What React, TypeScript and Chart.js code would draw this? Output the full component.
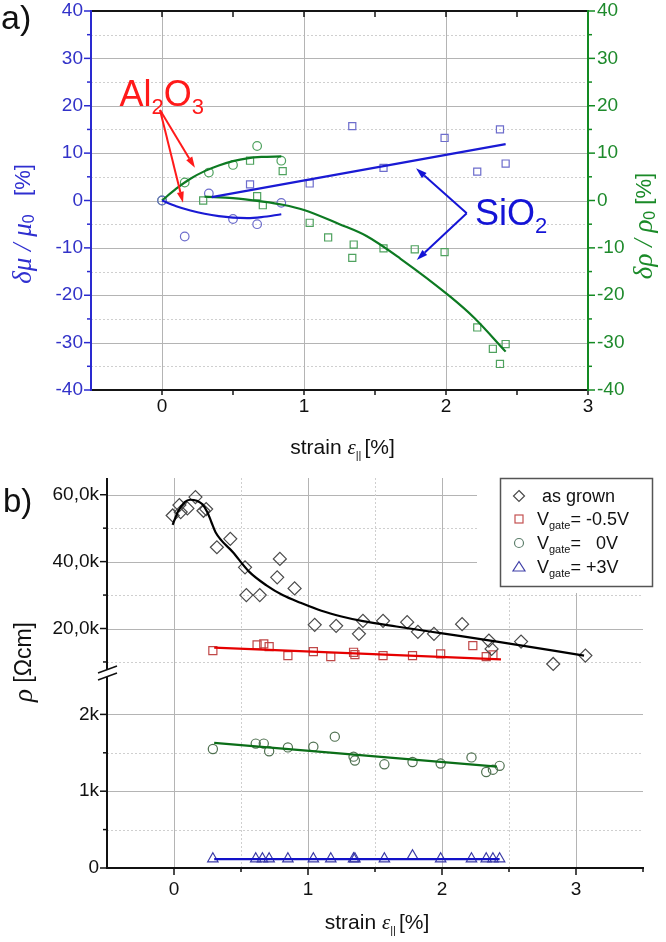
import React, { useEffect, useRef } from 'react';
import { Chart, registerables } from 'chart.js';

Chart.register(...registerables);

const SANS = '"Liberation Sans", Arial, sans-serif';
const SERIF = '"Liberation Serif", "Times New Roman", serif';

// ---------------- Panel a data (strain %, change %) ----------------
const alMuX = [0, 0.16, 0.33, 0.5, 0.67, 0.84];
const alMuY = [0, -7.6, 1.5, -3.9, -5.0, -0.5];
const alRhoX = [0, 0.16, 0.33, 0.5, 0.67, 0.84];
const alRhoY = [0, 3.8, 5.9, 7.5, 11.5, 8.4];
const siMuX = [0.62, 1.04, 1.34, 1.56, 1.99, 2.22, 2.38, 2.42];
const siMuY = [3.4, 3.6, 15.7, 6.9, 13.2, 6.1, 15.0, 7.8];
const siRhoX = [0.29, 0.62, 0.67, 0.71, 0.85, 1.04, 1.17, 1.34, 1.35, 1.56, 1.78, 1.99, 2.22, 2.33, 2.38, 2.42];
const siRhoY = [0, 8.4, 0.9, -1.0, 6.2, -4.7, -7.8, -12.1, -9.3, -10.1, -10.3, -10.9, -26.8, -31.3, -34.5, -30.3];

const alFitX = [0, 0.1, 0.2, 0.3, 0.4, 0.5, 0.6, 0.7, 0.84];
const alMuFitY = [0, -1.2, -2.1, -2.8, -3.3, -3.6, -3.7, -3.5, -2.9];
const alRhoFitY = [0, 2.5, 4.6, 6.2, 7.4, 8.3, 8.9, 9.2, 9.3];
const siMuFitX = [0.35, 2.42];
const siMuFitY = [0.7, 11.9];
const siRhoFitX = [0.3, 0.5, 0.7, 0.85, 1.0, 1.25, 1.44, 1.68, 2.03, 2.2, 2.42];
const siRhoFitY = [0.8, 0.5, -0.2, -0.9, -2.0, -5.0, -7.5, -12.3, -20.3, -24.8, -31.9];

const aXTicks = [0, 1, 2, 3];
const aXMinor = [0.5, 1.5, 2.5];
const aYTicks = [-40, -30, -20, -10, 0, 10, 20, 30, 40];
const aYMinor = [-35, -25, -15, -5, 5, 15, 25, 35];
const aYGrid = [-30, -20, -10, 0, 10, 20, 30];
const aXGrid = [0, 1, 2];

// annotation anchors (data coordinates of panel a)
const alLabelAt = { x: -0.3, y: 19.9 };
const alArrowFrom = { x: -0.014, y: 19.1 };
const alArrowTips = [{ x: 0.232, y: 6.9 }, { x: 0.148, y: -0.5 }];
const siLabelAt = { x: 2.204, y: -5.2 };
const siArrowFrom = { x: 2.146, y: -2.7 };
const siArrowTips = [{ x: 1.789, y: 6.8 }, { x: 1.794, y: -12.55 }];

// ---------------- Panel b data (strain %, rho in k Ohm cm) ----------------
const grownX = [-0.01, 0.04, 0.05, 0.10, 0.16, 0.22, 0.24, 0.32, 0.42, 0.53, 0.54, 0.64, 0.77, 0.79, 0.90, 1.05, 1.21, 1.38, 1.41, 1.56, 1.74, 1.82, 1.94, 2.15, 2.35, 2.37, 2.59, 2.83, 3.07];
const grownY = [53.8, 56.9, 54.8, 55.9, 59.3, 55.2, 55.7, 44.3, 46.8, 38.3, 30.0, 30.0, 35.3, 40.8, 32.0, 21.1, 20.8, 18.4, 22.3, 22.3, 21.9, 19.0, 18.4, 21.3, 16.4, 13.9, 16.1, 9.4, 11.9];
const grownFitX = [-0.01, 0.03, 0.08, 0.12, 0.17, 0.21, 0.25, 0.28, 0.31, 0.44, 0.56, 0.69, 0.81, 0.95, 1.1, 1.25, 1.41, 1.66, 1.99, 2.41, 3.06];
const grownFitY = [51.0, 55.0, 57.8, 58.5, 58.2, 57.2, 54.7, 51.7, 48.8, 42.8, 37.0, 32.9, 30.0, 27.6, 25.3, 23.6, 22.2, 20.6, 18.6, 16.1, 11.9];

const negX = [0.29, 0.62, 0.67, 0.71, 0.85, 1.04, 1.17, 1.34, 1.35, 1.56, 1.78, 1.99, 2.23, 2.33, 2.38];
const negY = [13.4, 15.1, 15.4, 14.6, 11.9, 13.1, 11.6, 12.9, 12.2, 11.9, 11.9, 12.4, 14.9, 11.6, 12.1];
const negFitX = [0.3, 2.44];
const negFitY = [14.3, 10.8];

const zeroX = [0.29, 0.61, 0.67, 0.71, 0.85, 1.04, 1.2, 1.34, 1.35, 1.57, 1.78, 1.99, 2.22, 2.33, 2.38, 2.43];
const zeroY = [1.55, 1.62, 1.62, 1.52, 1.57, 1.58, 1.71, 1.45, 1.4, 1.35, 1.38, 1.36, 1.44, 1.25, 1.28, 1.33];
const zeroFitX = [0.3, 2.41];
const zeroFitY = [1.63, 1.32];

const posX = [0.29, 0.61, 0.66, 0.71, 0.85, 1.04, 1.17, 1.34, 1.35, 1.57, 1.78, 1.99, 2.22, 2.33, 2.38, 2.43];
const posY = [0.12, 0.12, 0.12, 0.12, 0.12, 0.12, 0.12, 0.12, 0.12, 0.12, 0.16, 0.12, 0.12, 0.12, 0.12, 0.12];
const posFitX = [0.3, 2.43];
const posFitY = [0.115, 0.115];

const bXTicks = [0, 1, 2, 3];
const bXMinor = [0.5, 1.5, 2.5, 3.5];
const bUpTicks = [20, 40, 60];
const bUpLabels = ['20,0k', '40,0k', '60,0k'];
const bUpMinor = [10, 30, 50];
const bLowTicks = [0, 1, 2];
const bLowLabels = ['0', '1k', '2k'];
const bLowMinor = [0.5, 1.5];

const legendLabels = [' as grown', '= -0.5V', '=   0V', '= +3V'];

// ---------------- colours ----------------
const GRID = '#b4b4b4';
const DOT = '#cfcfcf';
const A_BLUE_LINE = '#1a1ad4';
const A_BLUE_MARK = '#6d6dcc';
const A_GREEN_LINE = '#0d7a22';
const A_GREEN_MARK = '#4fa25f';
const A_LEFT = '#2a2ad0';
const A_RIGHT = '#138a22';

type Seg = { t: string; f: string; dy?: number };

function drawSegs(ctx: CanvasRenderingContext2D, segs: Seg[], x: number, y: number, align: string) {
  let w = 0;
  segs.forEach((s) => { ctx.font = s.f; w += ctx.measureText(s.t).width; });
  let cx = align === 'left' ? x : align === 'center' ? x - w / 2 : x - w;
  ctx.textAlign = 'left';
  segs.forEach((s) => {
    ctx.font = s.f;
    ctx.fillText(s.t, cx, y + (s.dy || 0));
    cx += ctx.measureText(s.t).width;
  });
}

function rotSegs(ctx: CanvasRenderingContext2D, segs: Seg[], cx: number, cy: number, color: string) {
  ctx.save();
  ctx.translate(cx, cy);
  ctx.rotate(-Math.PI / 2);
  ctx.fillStyle = color;
  ctx.textBaseline = 'middle';
  drawSegs(ctx, segs, 0, 0, 'center');
  ctx.restore();
}

function seg(ctx: CanvasRenderingContext2D, x1: number, y1: number, x2: number, y2: number) {
  ctx.beginPath();
  ctx.moveTo(x1, y1);
  ctx.lineTo(x2, y2);
  ctx.stroke();
}

function arrow(ctx: CanvasRenderingContext2D, x1: number, y1: number, x2: number, y2: number, color: string) {
  const ang = Math.atan2(y2 - y1, x2 - x1);
  const head = 11, w = 3.5;
  const bx = x2 - head * Math.cos(ang), by = y2 - head * Math.sin(ang);
  ctx.strokeStyle = color;
  ctx.fillStyle = color;
  ctx.lineWidth = 2;
  seg(ctx, x1, y1, bx, by);
  ctx.beginPath();
  ctx.moveTo(x2, y2);
  ctx.lineTo(bx + w * Math.sin(ang), by - w * Math.cos(ang));
  ctx.lineTo(bx - w * Math.sin(ang), by + w * Math.cos(ang));
  ctx.closePath();
  ctx.fill();
}

function hGrid(ctx: CanvasRenderingContext2D, a: any, scale: any, vals: number[], dotted: boolean) {
  ctx.save();
  ctx.lineWidth = 1;
  ctx.strokeStyle = dotted ? DOT : GRID;
  ctx.setLineDash(dotted ? [2, 2] : []);
  vals.forEach((v) => {
    const p = Math.round(scale.getPixelForValue(v)) + 0.5;
    seg(ctx, a.left, p, a.right, p);
  });
  ctx.restore();
}

function vGrid(ctx: CanvasRenderingContext2D, scale: any, vals: number[], y1: number, y2: number, dotted: boolean) {
  ctx.save();
  ctx.lineWidth = 1;
  ctx.strokeStyle = dotted ? DOT : GRID;
  ctx.setLineDash(dotted ? [2, 2] : []);
  vals.forEach((v) => {
    const p = Math.round(scale.getPixelForValue(v)) + 0.5;
    seg(ctx, p, y1, p, y2);
  });
  ctx.restore();
}

const pts = (xs: number[], ys: number[]) => xs.map((x, i) => ({ x, y: ys[i] }));

function markers(label: string, xs: number[], ys: number[], style: string, color: string, r: number, yAxisID = 'y') {
  return {
    label, data: pts(xs, ys), showLine: false, pointStyle: style, pointRadius: r,
    pointBorderColor: color, pointBackgroundColor: 'rgba(0,0,0,0)', pointBorderWidth: 1.2,
    yAxisID, clip: false, order: 2,
  };
}

function fitLine(label: string, xs: number[], ys: number[], color: string, yAxisID = 'y') {
  return {
    label, data: pts(xs, ys), showLine: true, borderColor: color, borderWidth: 2.2,
    pointRadius: 0, cubicInterpolationMode: 'monotone', yAxisID, clip: false, order: 1,
  };
}

function baseOptions(padding: any, scales: any) {
  return {
    animation: false, responsive: false, maintainAspectRatio: false, events: [],
    layout: { padding },
    plugins: { legend: { display: false }, tooltip: { enabled: false }, title: { display: false } },
    scales,
  };
}

const TICK_FONT = `19px ${SANS}`;
const LEG_FONT = `18px ${SANS}`;
const TITLE_FONT = `21px ${SANS}`;

// ---------------- Panel a plugin ----------------
const panelAPlugin = {
  id: 'panelA',
  beforeDatasetsDraw(chart: any) {
    const { ctx, chartArea: a } = chart;
    const x = chart.scales.x, y = chart.scales.y;
    hGrid(ctx, a, y, aYMinor, true);
    hGrid(ctx, a, y, aYGrid, false);
    vGrid(ctx, x, aXGrid, a.top, a.bottom, false);
  },
  afterDatasetsDraw(chart: any) {
    const { ctx, chartArea: a } = chart;
    const x = chart.scales.x, y = chart.scales.y, y2 = chart.scales.y2;
    ctx.save();
    ctx.lineWidth = 2;
    // top & bottom axes
    ctx.strokeStyle = '#151515';
    seg(ctx, a.left, a.top, a.right, a.top);
    seg(ctx, a.left, a.bottom, a.right, a.bottom);
    ctx.lineWidth = 1.5;
    [...aXTicks, ...aXMinor].forEach((v) => {
      const p = x.getPixelForValue(v);
      seg(ctx, p, a.top, p, a.top + 6);
      seg(ctx, p, a.bottom, p, a.bottom + 5);
    });
    // left axis
    ctx.lineWidth = 2;
    ctx.strokeStyle = A_LEFT;
    seg(ctx, a.left, a.top - 1, a.left, a.bottom + 1);
    ctx.lineWidth = 1.5;
    aYTicks.forEach((v) => { const p = y.getPixelForValue(v); seg(ctx, a.left - 7, p, a.left, p); });
    aYMinor.forEach((v) => { const p = y.getPixelForValue(v); seg(ctx, a.left - 4, p, a.left, p); });
    // right axis
    ctx.lineWidth = 2;
    ctx.strokeStyle = A_RIGHT;
    seg(ctx, a.right, a.top - 1, a.right, a.bottom + 1);
    ctx.lineWidth = 1.5;
    aYTicks.forEach((v) => { const p = y2.getPixelForValue(v); seg(ctx, a.right, p, a.right + 7, p); });
    aYMinor.forEach((v) => { const p = y2.getPixelForValue(v); seg(ctx, a.right, p, a.right + 4, p); });

    // tick labels
    ctx.font = TICK_FONT;
    ctx.textBaseline = 'middle';
    ctx.textAlign = 'right';
    ctx.fillStyle = '#3232c8';
    aYTicks.forEach((v) => ctx.fillText(String(v), a.left - 8, y.getPixelForValue(v)));
    ctx.textAlign = 'left';
    ctx.fillStyle = '#1e8a2c';
    aYTicks.forEach((v) => ctx.fillText(String(v), a.right + 9, y2.getPixelForValue(v)));
    ctx.textAlign = 'center';
    ctx.fillStyle = '#111';
    aXTicks.forEach((v) => ctx.fillText(String(v), x.getPixelForValue(v), a.bottom + 17));

    // x title
    ctx.textBaseline = 'alphabetic';
    ctx.fillStyle = '#111';
    drawSegs(ctx, [
      { t: 'strain ', f: TITLE_FONT },
      { t: 'ε', f: `italic 21px ${SERIF}` },
      { t: '|| ', f: `11px ${SANS}`, dy: 5 },
      { t: '[%]', f: TITLE_FONT },
    ], (a.left + a.right) / 2 + 3, a.bottom + 64, 'center');

    // y titles
    rotSegs(ctx, [
      { t: 'δμ / μ', f: `italic 27px ${SERIF}` },
      { t: '0', f: `16px ${SANS}`, dy: 6 },
      { t: '   [%]', f: `22px ${SANS}` },
    ], 24, 224, '#2f2fd0');
    rotSegs(ctx, [
      { t: 'δρ / ρ', f: `italic 27px ${SERIF}` },
      { t: '0', f: `16px ${SANS}`, dy: 6 },
      { t: ' [%]', f: `22px ${SANS}` },
    ], 645, 226, '#1a8a28');

    // "a)"
    ctx.fillStyle = '#111';
    ctx.font = `34px ${SANS}`;
    ctx.textAlign = 'left';
    ctx.fillText('a)', 1, 29);

    // annotations
    const px = (p: any) => ({ x: x.getPixelForValue(p.x), y: y.getPixelForValue(p.y) });
    const af = px(alArrowFrom);
    alArrowTips.forEach((t) => { const tp = px(t); arrow(ctx, af.x, af.y, tp.x, tp.y, '#ff1a1a'); });
    const al = px(alLabelAt);
    ctx.fillStyle = '#ff1a1a';
    ctx.textBaseline = 'alphabetic';
    drawSegs(ctx, [
      { t: 'Al', f: `36px ${SANS}` },
      { t: '2', f: `22px ${SANS}`, dy: 8 },
      { t: 'O', f: `36px ${SANS}` },
      { t: '3', f: `22px ${SANS}`, dy: 8 },
    ], al.x, al.y, 'left');

    const sf = px(siArrowFrom);
    siArrowTips.forEach((t) => { const tp = px(t); arrow(ctx, sf.x, sf.y, tp.x, tp.y, '#1414d6'); });
    const si = px(siLabelAt);
    ctx.fillStyle = '#1414d6';
    drawSegs(ctx, [
      { t: 'SiO', f: `36px ${SANS}` },
      { t: '2', f: `22px ${SANS}`, dy: 8 },
    ], si.x, si.y, 'left');
    ctx.restore();
  },
};

// ---------------- Panel b plugins ----------------
const bUpperPlugin = {
  id: 'bUpper',
  beforeDatasetsDraw(chart: any) {
    const { ctx, chartArea: a } = chart;
    const x = chart.scales.x, y = chart.scales.y;
    hGrid(ctx, a, y, bUpMinor, true);
    hGrid(ctx, a, y, bUpTicks, false);
    vGrid(ctx, x, bXMinor.filter((v) => v < 3.5), a.top, a.bottom, true);
    vGrid(ctx, x, bXTicks, a.top, a.bottom, false);
  },
  afterDatasetsDraw(chart: any) {
    const { ctx, chartArea: a } = chart;
    const y = chart.scales.y;
    ctx.save();
    // white area behind legend
    ctx.fillStyle = '#fff';
    ctx.fillRect(477, 0, 189, 123);
    // legend box
    ctx.strokeStyle = '#555';
    ctx.lineWidth = 1.5;
    ctx.strokeRect(500.5, 8.5, 152, 108);
    const sx = 519;
    const rows = [26, 49, 73, 97];
    ctx.lineWidth = 1.2;
    // diamond
    ctx.strokeStyle = '#4a4a4a';
    ctx.beginPath();
    ctx.moveTo(sx, rows[0] - 5.5); ctx.lineTo(sx + 5.5, rows[0]); ctx.lineTo(sx, rows[0] + 5.5); ctx.lineTo(sx - 5.5, rows[0]);
    ctx.closePath(); ctx.stroke();
    // square
    ctx.strokeStyle = '#c45050';
    ctx.strokeRect(sx - 4, rows[1] - 4, 8, 8);
    // circle
    ctx.strokeStyle = '#5d7f6c';
    ctx.beginPath(); ctx.arc(sx, rows[2], 4.5, 0, Math.PI * 2); ctx.stroke();
    // triangle
    ctx.strokeStyle = '#3f3fa8';
    ctx.beginPath();
    ctx.moveTo(sx, rows[3] - 5.5); ctx.lineTo(sx + 6, rows[3] + 4); ctx.lineTo(sx - 6, rows[3] + 4);
    ctx.closePath(); ctx.stroke();
    ctx.fillStyle = '#111';
    ctx.textBaseline = 'alphabetic';
    drawSegs(ctx, [{ t: legendLabels[0], f: LEG_FONT }], 537, rows[0] + 6, 'left');
    for (let i = 1; i < 4; i++) {
      drawSegs(ctx, [
        { t: 'V', f: LEG_FONT },
        { t: 'gate', f: `11px ${SANS}`, dy: 4 },
        { t: legendLabels[i], f: LEG_FONT },
      ], 537, rows[i] + 6, 'left');
    }

    // left axis
    ctx.strokeStyle = '#111';
    ctx.lineWidth = 2;
    seg(ctx, a.left, a.top, a.left, a.bottom);
    ctx.lineWidth = 1.5;
    bUpTicks.forEach((v) => { const p = y.getPixelForValue(v); seg(ctx, a.left - 7, p, a.left, p); });
    bUpMinor.forEach((v) => { const p = y.getPixelForValue(v); seg(ctx, a.left - 4, p, a.left, p); });
    ctx.font = TICK_FONT;
    ctx.textAlign = 'right';
    ctx.textBaseline = 'middle';
    ctx.fillStyle = '#111';
    bUpTicks.forEach((v, i) => ctx.fillText(bUpLabels[i], a.left - 8, y.getPixelForValue(v)));

    ctx.font = `33px ${SANS}`;
    ctx.textAlign = 'left';
    ctx.textBaseline = 'alphabetic';
    ctx.fillText('b)', 3, 42);
    ctx.restore();
  },
};

const bLowerPlugin = {
  id: 'bLower',
  beforeDatasetsDraw(chart: any) {
    const { ctx, chartArea: a } = chart;
    const x = chart.scales.x, y = chart.scales.y;
    hGrid(ctx, a, y, bLowMinor, true);
    hGrid(ctx, a, y, [1, 2], false);
    vGrid(ctx, x, bXMinor.filter((v) => v < 3.5), a.top - 2, a.bottom, true);
    vGrid(ctx, x, bXTicks, a.top - 2, a.bottom, false);
  },
  afterDatasetsDraw(chart: any) {
    const { ctx, chartArea: a } = chart;
    const x = chart.scales.x, y = chart.scales.y;
    ctx.save();
    ctx.strokeStyle = '#111';
    ctx.lineWidth = 2;
    seg(ctx, a.left, a.top - 3, a.left, a.bottom + 1);
    seg(ctx, a.left - 1, a.bottom, a.right + 1, a.bottom);
    ctx.lineWidth = 1.5;
    bLowTicks.forEach((v) => { const p = y.getPixelForValue(v); seg(ctx, a.left - 7, p, a.left, p); });
    bLowMinor.forEach((v) => { const p = y.getPixelForValue(v); seg(ctx, a.left - 4, p, a.left, p); });
    bXTicks.forEach((v) => { const p = x.getPixelForValue(v); seg(ctx, p, a.bottom, p, a.bottom + 7); });
    bXMinor.forEach((v) => { const p = x.getPixelForValue(v); seg(ctx, p, a.bottom, p, a.bottom + 4); });

    // axis break marks
    const bx = a.left, by = a.top - 4;
    ctx.fillStyle = '#fff';
    ctx.beginPath();
    ctx.moveTo(bx - 9, by + 1); ctx.lineTo(bx + 10, by - 6); ctx.lineTo(bx + 10, by + 1); ctx.lineTo(bx - 9, by + 8);
    ctx.closePath(); ctx.fill();
    ctx.lineWidth = 1.5;
    seg(ctx, bx - 9, by + 1, bx + 10, by - 6);
    seg(ctx, bx - 9, by + 8, bx + 10, by + 1);

    ctx.font = TICK_FONT;
    ctx.fillStyle = '#111';
    ctx.textAlign = 'right';
    ctx.textBaseline = 'middle';
    bLowTicks.forEach((v, i) => ctx.fillText(bLowLabels[i], a.left - 8, y.getPixelForValue(v)));
    ctx.textAlign = 'center';
    bXTicks.forEach((v) => ctx.fillText(String(v), x.getPixelForValue(v), a.bottom + 22));

    ctx.textBaseline = 'alphabetic';
    drawSegs(ctx, [
      { t: 'strain ', f: TITLE_FONT },
      { t: 'ε', f: `italic 21px ${SERIF}` },
      { t: '|| ', f: `11px ${SANS}`, dy: 5 },
      { t: '[%]', f: TITLE_FONT },
    ], (a.left + a.right) / 2 + 2, a.bottom + 61, 'center');

    rotSegs(ctx, [
      { t: 'ρ', f: `italic 27px ${SERIF}` },
      { t: ' [Ωcm]', f: `23px ${SANS}` },
    ], 25, 192, '#111');
    ctx.restore();
  },
};

export default function App() {
  const aRef = useRef<HTMLCanvasElement>(null);
  const b1Ref = useRef<HTMLCanvasElement>(null);
  const b2Ref = useRef<HTMLCanvasElement>(null);

  useEffect(() => {
    const charts: Chart[] = [];
    const xA = { type: 'linear', min: -0.5, max: 3, display: false };
    charts.push(new Chart(aRef.current as HTMLCanvasElement, {
      type: 'scatter',
      data: {
        datasets: [
          fitLine('Al2O3 mu fit', alFitX, alMuFitY, A_BLUE_LINE, 'y'),
          fitLine('Al2O3 rho fit', alFitX, alRhoFitY, A_GREEN_LINE, 'y2'),
          fitLine('SiO2 mu fit', siMuFitX, siMuFitY, A_BLUE_LINE, 'y'),
          fitLine('SiO2 rho fit', siRhoFitX, siRhoFitY, A_GREEN_LINE, 'y2'),
          markers('Al2O3 mu', alMuX, alMuY, 'circle', A_BLUE_MARK, 4.3, 'y'),
          markers('Al2O3 rho', alRhoX, alRhoY, 'circle', A_GREEN_MARK, 4.3, 'y2'),
          markers('SiO2 mu', siMuX, siMuY, 'rect', A_BLUE_MARK, 5, 'y'),
          markers('SiO2 rho', siRhoX, siRhoY, 'rect', A_GREEN_MARK, 5, 'y2'),
        ] as any,
      },
      options: baseOptions({ left: 91, right: 78, top: 11, bottom: 80 }, {
        x: xA,
        y: { type: 'linear', min: -40, max: 40, display: false },
        y2: { type: 'linear', min: -40, max: 40, display: false, position: 'right' },
      }) as any,
      plugins: [panelAPlugin],
    }));

    const xB = { type: 'linear', min: -0.5, max: 3.5, display: false };
    charts.push(new Chart(b1Ref.current as HTMLCanvasElement, {
      type: 'scatter',
      data: {
        datasets: [
          fitLine('as grown fit', grownFitX, grownFitY, '#000000'),
          fitLine('-0.5V fit', negFitX, negFitY, '#e60000'),
          markers('as grown', grownX, grownY, 'rectRot', '#4a4a4a', 6.5),
          markers('Vgate = -0.5V', negX, negY, 'rect', '#c04848', 5.7),
        ] as any,
      },
      options: baseOptions({ left: 107, right: 23, top: 8, bottom: 268 }, {
        x: xB,
        y: { type: 'linear', min: 6.4, max: 65, display: false },
      }) as any,
      plugins: [bUpperPlugin],
    }));

    charts.push(new Chart(b2Ref.current as HTMLCanvasElement, {
      type: 'scatter',
      data: {
        datasets: [
          fitLine('0V fit', zeroFitX, zeroFitY, '#0b6e18'),
          fitLine('+3V fit', posFitX, posFitY, '#1212c8'),
          markers('Vgate = 0V', zeroX, zeroY, 'circle', '#4f7050', 4.6),
          markers('Vgate = +3V', posX, posY, 'triangle', '#3a3aa6', 6),
        ] as any,
      },
      options: baseOptions({ left: 107, right: 23, top: 206, bottom: 74 }, {
        x: xB,
        y: { type: 'linear', min: 0, max: 2.5, display: false },
      }) as any,
      plugins: [bLowerPlugin],
    }));

    return () => charts.forEach((c) => c.destroy());
  }, []);

  return (
    <div style={{ position: 'absolute', left: 0, top: 0, width: 666, height: 942, background: '#fff', overflow: 'hidden' }}>
      <canvas ref={aRef} width={666} height={470} style={{ position: 'absolute', left: 0, top: 0 }} />
      <canvas ref={b1Ref} width={666} height={472} style={{ position: 'absolute', left: 0, top: 470 }} />
      <canvas ref={b2Ref} width={666} height={472} style={{ position: 'absolute', left: 0, top: 470 }} />
    </div>
  );
}
